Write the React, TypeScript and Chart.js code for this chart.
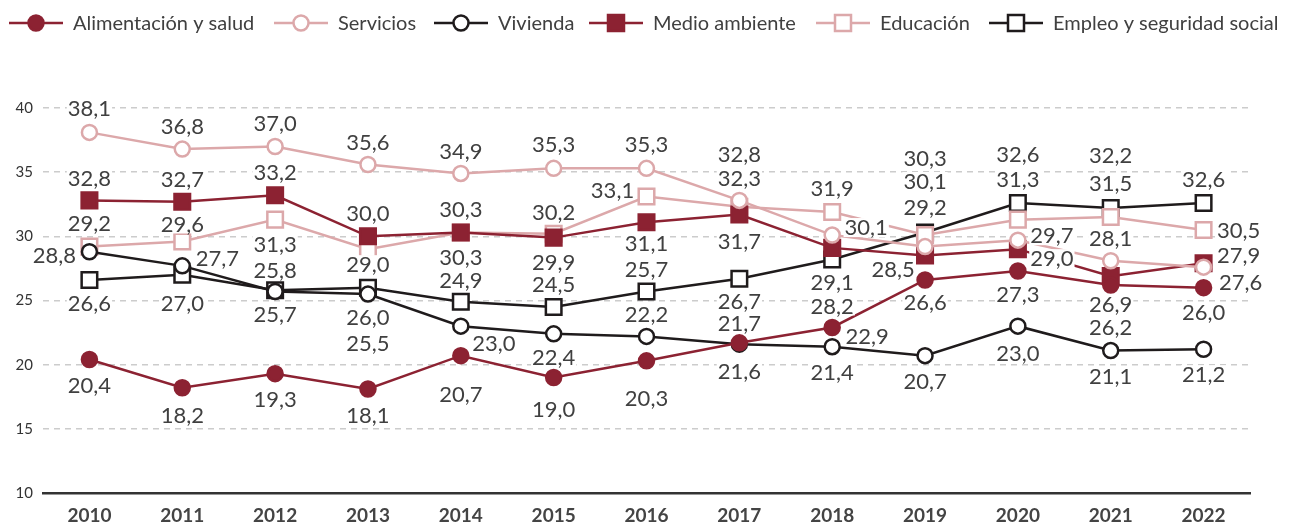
import React, { useEffect, useRef } from 'react';
import { Chart, registerables } from 'chart.js';

Chart.register(...registerables);

// ---------- data ----------
const years = ['2010', '2011', '2012', '2013', '2014', '2015', '2016', '2017', '2018', '2019', '2020', '2021', '2022'];
const yTicks = [10, 15, 20, 25, 30, 35, 40];

const alimentacionSalud = [20.4, 18.2, 19.3, 18.1, 20.7, 19.0, 20.3, 21.7, 22.9, 26.6, 27.3, 26.2, 26.0];
const servicios = [38.1, 36.8, 37.0, 35.6, 34.9, 35.3, 35.3, 32.8, 30.1, 29.2, 29.7, 28.1, 27.6];
const vivienda = [28.8, 27.7, 25.7, 25.5, 23.0, 22.4, 22.2, 21.6, 21.4, 20.7, 23.0, 21.1, 21.2];
const medioAmbiente = [32.8, 32.7, 33.2, 30.0, 30.3, 29.9, 31.1, 31.7, 29.1, 28.5, 29.0, 26.9, 27.9];
const educacion = [29.2, 29.6, 31.3, 29.0, 30.3, 30.2, 33.1, 32.3, 31.9, 30.1, 31.3, 31.5, 30.5];
const empleoSeguridad = [26.6, 27.0, 25.8, 26.0, 24.9, 24.5, 25.7, 26.7, 28.2, 30.3, 32.6, 32.2, 32.6];

// ---------- label placement (pixel offsets from each point) ----------
const offAlimentacion = [[0, 25], [0, 27], [0, 25], [0, 26], [0, 38], [0, 31], [0, 37], [0, -20], [35, 8], [0, 22], [0, 23], [0, 42], [0, 24]];
const offServicios = [[0, -24], [0, -23], [0, -24], [0, -23], [0, -23], [0, -24], [0, -24], [0, -46], [34, -8], [0, -40], [34, -5], [0, -23], [37, 15]];
const offVivienda = [[-35, 3], [35, -8], [0, 22], [0, 49], [33, 17], [0, 23], [0, -23], [0, 27], [0, 25], [0, 25], [0, 27], [0, 25], [0, 25]];
const offMedio = [[0, -22], [0, -23], [0, -23], [0, -23], [0, -24], [0, 24], [0, 21], [0, 26], [0, 34], [-32, 13], [34, 9], [0, 28], [35, -8]];
const offEducacion = [[0, -24], [0, -18], [0, 24], [0, 15], [0, 24], [0, -22], [-34, -7], [0, -29], [0, -24], [0, -54], [0, -41], [0, -34], [35, 0]];
const offEmpleo = [[0, 23], [0, 28], [0, -20], [0, 29], [0, -22], [0, -23], [0, -23], [0, 22], [0, 46], [0, -75], [0, -49], [0, -53], [0, -24]];

// legend item start positions (px)
const legendStarts = [9, 274, 434, 589, 816, 989];

// ---------- styles ----------
const DARK_RED = '#8C2232';
const PINK = '#DCA8AA';
const BLACK = '#1F1B1C';
const TEXT = '#404040';
const FONT = 'Lato, "Noto Sans", sans-serif';

type SeriesDef = {
  label: string;
  data: number[];
  color: string;
  filled: boolean;
  shape: 'circle' | 'rect';
  offsets: number[][];
};

const series: SeriesDef[] = [
  { label: 'Alimentación y salud', data: alimentacionSalud, color: DARK_RED, filled: true, shape: 'circle', offsets: offAlimentacion },
  { label: 'Servicios', data: servicios, color: PINK, filled: false, shape: 'circle', offsets: offServicios },
  { label: 'Vivienda', data: vivienda, color: BLACK, filled: false, shape: 'circle', offsets: offVivienda },
  { label: 'Medio ambiente', data: medioAmbiente, color: DARK_RED, filled: true, shape: 'rect', offsets: offMedio },
  { label: 'Educación', data: educacion, color: PINK, filled: false, shape: 'rect', offsets: offEducacion },
  { label: 'Empleo y seguridad social', data: empleoSeguridad, color: BLACK, filled: false, shape: 'rect', offsets: offEmpleo },
];

const fmt = (v: number) => v.toFixed(1).replace('.', ',');

const labelsPlugin = {
  id: 'pointLabels',
  afterDatasetsDraw(chart: any) {
    const ctx = chart.ctx as CanvasRenderingContext2D;
    ctx.save();
    ctx.font = `22px ${FONT}`;
    ctx.textAlign = 'center';
    ctx.textBaseline = 'middle';
    series.forEach((s, i) => {
      const meta = chart.getDatasetMeta(i);
      meta.data.forEach((el: any, j: number) => {
        const [dx, dy] = s.offsets[j] || [0, -24];
        const x = el.x + dx;
        const y = el.y + dy;
        const txt = fmt(s.data[j]);
        const w = ctx.measureText(txt).width;
        ctx.fillStyle = '#ffffff';
        ctx.fillRect(x - w / 2 - 1, y - 9, w + 2, 19);
        ctx.fillStyle = TEXT;
        ctx.fillText(txt, x, y + 1);
      });
    });
    ctx.restore();
  },
};

function drawMarker(ctx: CanvasRenderingContext2D, s: SeriesDef, x: number, y: number) {
  ctx.lineWidth = 2.5;
  ctx.strokeStyle = s.color;
  ctx.fillStyle = s.filled ? s.color : '#ffffff';
  ctx.beginPath();
  if (s.shape === 'circle') {
    ctx.arc(x, y, 7.5, 0, Math.PI * 2);
  } else {
    ctx.rect(x - 8, y - 8, 16, 16);
  }
  ctx.fill();
  ctx.stroke();
}

const legendPlugin = {
  id: 'customLegend',
  afterDraw(chart: any) {
    const ctx = chart.ctx as CanvasRenderingContext2D;
    ctx.save();
    ctx.font = `20px ${FONT}`;
    ctx.textBaseline = 'middle';
    ctx.textAlign = 'left';
    const yc = 23;
    series.forEach((s, i) => {
      const x = legendStarts[i];
      ctx.strokeStyle = s.color;
      ctx.lineWidth = 2.5;
      ctx.beginPath();
      ctx.moveTo(x, yc);
      ctx.lineTo(x + 54, yc);
      ctx.stroke();
      drawMarker(ctx, s, x + 27, yc);
      ctx.fillStyle = TEXT;
      ctx.fillText(s.label, x + 64, yc + 1);
    });
    ctx.restore();
  },
};

export default function App() {
  const ref = useRef<HTMLCanvasElement | null>(null);

  useEffect(() => {
    document.body.style.margin = '0';
    const canvas = ref.current;
    if (!canvas) return;
    const chart = new Chart(canvas, {
      type: 'line',
      data: {
        labels: years,
        datasets: series.map((s) => ({
          label: s.label,
          data: s.data,
          borderColor: s.color,
          backgroundColor: s.color,
          borderWidth: 2.5,
          pointStyle: s.shape,
          pointRadius: s.shape === 'circle' ? 7.5 : 11,
          pointBorderWidth: 2.5,
          pointBorderColor: s.color,
          pointBackgroundColor: s.filled ? s.color : '#ffffff',
          tension: 0,
          fill: false,
          clip: false as any,
        })),
      },
      options: {
        responsive: false,
        animation: false,
        devicePixelRatio: 1,
        layout: { padding: { top: 108, right: 40, left: 0, bottom: 0 } },
        plugins: {
          legend: { display: false },
          tooltip: { enabled: false },
        },
        scales: {
          x: {
            type: 'category',
            offset: true,
            grid: { display: false, drawTicks: false },
            border: { display: true, color: '#333333', width: 2.5 },
            ticks: {
              color: '#444444',
              font: { family: FONT, size: 19, weight: 'bold' },
              padding: 11,
              maxRotation: 0,
            },
            afterFit: (scale: any) => {
              scale.height = 31;
            },
          },
          y: {
            min: 10,
            max: 40,
            grid: { color: '#cccccc', lineWidth: 1.5, drawTicks: false },
            border: { display: false, dash: [6, 5] },
            ticks: {
              color: '#333333',
              font: { family: FONT, size: 15 },
              padding: 10,
            },
            afterBuildTicks: (scale: any) => {
              scale.ticks = yTicks.map((v) => ({ value: v }));
            },
            afterFit: (scale: any) => {
              scale.width = 43;
            },
          },
        },
      },
      plugins: [labelsPlugin, legendPlugin],
    });
    return () => chart.destroy();
  }, []);

  return (
    <div style={{ position: 'absolute', left: 0, top: 0, width: 1290, height: 524, background: '#ffffff' }}>
      <canvas ref={ref} width={1290} height={524} style={{ display: 'block' }} />
    </div>
  );
}
